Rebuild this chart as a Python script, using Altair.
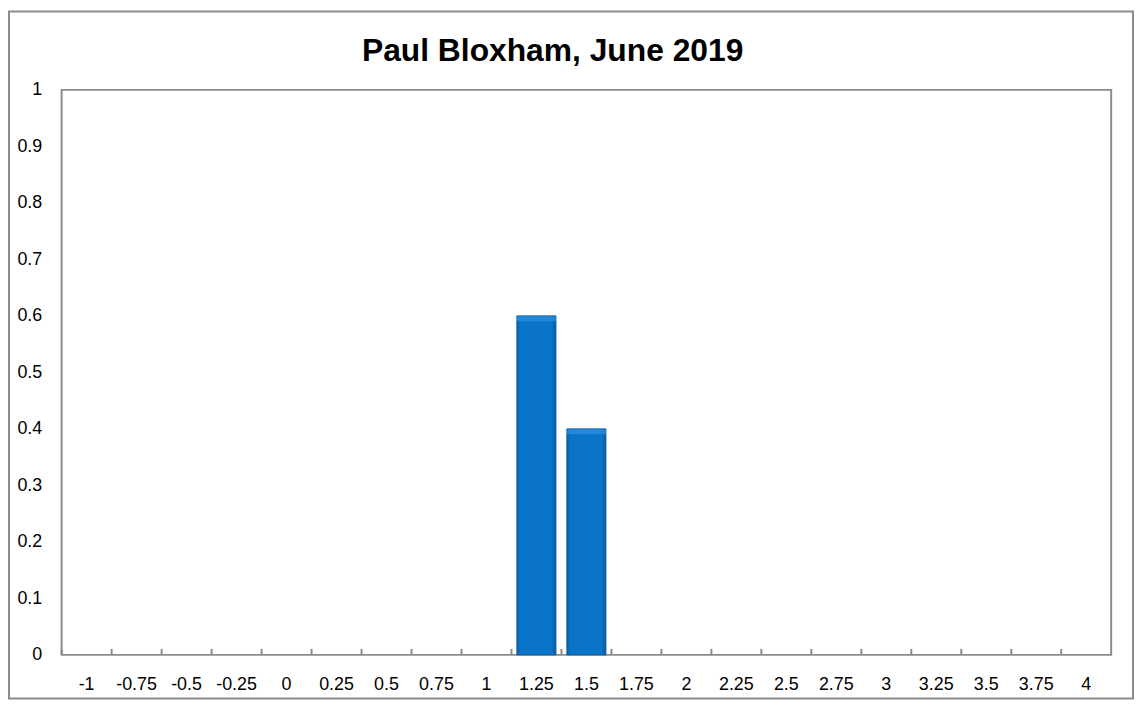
import altair as alt
import pandas as pd

categories = ["-1", "-0.75", "-0.5", "-0.25", "0", "0.25", "0.5", "0.75", "1",
              "1.25", "1.5", "1.75", "2", "2.25", "2.5", "2.75", "3", "3.25",
              "3.5", "3.75", "4"]
values = [0, 0, 0, 0, 0, 0, 0, 0, 0, 0.6, 0.4, 0, 0, 0, 0, 0, 0, 0, 0, 0, 0]
y_ticks = [0, 0.1, 0.2, 0.3, 0.4, 0.5, 0.6, 0.7, 0.8, 0.9, 1.0]
title_text = "Paul Bloxham, June 2019"

df = pd.DataFrame({"cat": categories, "value": values})

W, H = 1057, 569
FONT = "Liberation Sans"

xscale = alt.Scale(domain=categories, paddingInner=0.22, paddingOuter=0.11)
yscale = alt.Scale(domain=[0, 1])

base = alt.Chart(df)

bar_fill = alt.Gradient(
    gradient="linear", x1=0, x2=1, y1=0, y2=0,
    stops=[alt.GradientStop(offset=0, color="#0B5FA6"),
           alt.GradientStop(offset=0.08, color="#0A74C8"),
           alt.GradientStop(offset=0.9, color="#0A74C8"),
           alt.GradientStop(offset=1, color="#0A5494")])

bars = base.transform_filter("datum.value > 0").mark_bar(
    fill=bar_fill, stroke="#0A5A9C", strokeWidth=1
).encode(
    x=alt.X("cat:O", scale=xscale, sort=categories,
            axis=alt.Axis(title=None, labelAngle=0, ticks=False, domain=False,
                          labelFontSize=18, labelFont=FONT, labelColor="#000000",
                          labelPadding=21)),
    y=alt.Y("value:Q", scale=yscale,
            axis=alt.Axis(title=None, values=y_ticks, format=".1~f", ticks=False,
                          domain=False, grid=False, labelFontSize=18, labelFont=FONT,
                          labelColor="#000000", labelPadding=20)),
)

tops = base.transform_filter("datum.value > 0").mark_tick(
    color="#2F90DE", thickness=5, bandSize=36
).encode(
    x=alt.X("cat:O", scale=xscale, sort=categories),
    y=alt.Y("value:Q", scale=yscale),
    yOffset=alt.value(3),
)

ticks = base.mark_rule(color="#8C8C8C", strokeWidth=2, xOffset=-5.5).encode(
    x=alt.X("cat:O", scale=xscale, sort=categories, bandPosition=0),
    y=alt.value(H - 6),
    y2=alt.value(H),
)

one_row = base.transform_filter("datum.cat == '-1'")

frame = one_row.mark_rect(
    fill=None, stroke="#8C8C8C", strokeWidth=2
).encode(
    x=alt.value(-53), x2=alt.value(W + 22),
    y=alt.value(-79), y2=alt.value(H + 44),
)

title = one_row.mark_text(
    text=title_text, font=FONT, fontSize=32, fontWeight="bold", color="#000000",
    align="center", baseline="alphabetic"
).encode(
    x=alt.value(W / 2 - 34),
    y=alt.value(-29),
)

chart = alt.layer(bars, tops, ticks, frame, title).properties(
    width=W, height=H,
    autosize=alt.AutoSizeParams(type="none"),
    padding={"left": 54, "top": 80, "right": 24, "bottom": 45},
).configure_view(stroke="#8C8C8C", strokeWidth=2)

chart.save("out.html", embed_options={"renderer": "svg", "actions": False})
